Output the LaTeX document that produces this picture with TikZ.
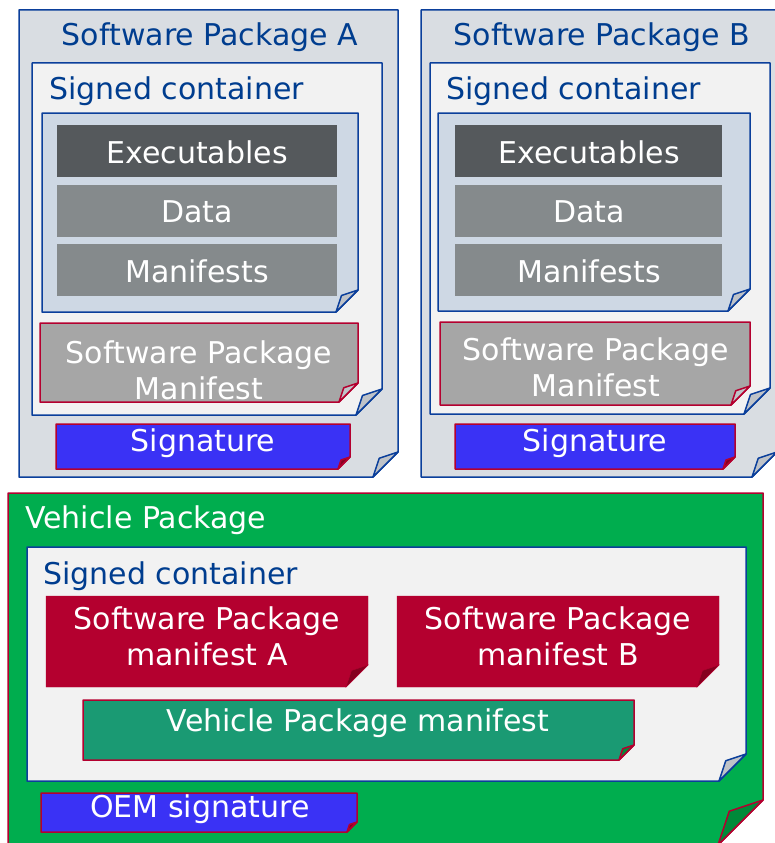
\documentclass[tikz,border=0pt]{standalone}
\usepackage{fontspec}
\setmainfont{DejaVu Sans}

\definecolor{pblue}{HTML}{0B3F9B}
\definecolor{tblue}{HTML}{003D8F}
\definecolor{pkggray}{HTML}{D9DDE2}
\definecolor{boxgray}{HTML}{F2F2F2}
\definecolor{filegray}{HTML}{CED8E4}
\definecolor{execgray}{HTML}{55595C}
\definecolor{datagray}{HTML}{858A8C}
\definecolor{mangray}{HTML}{A6A6A6}
\definecolor{flapgray}{HTML}{BFC3C8}
\definecolor{crimson}{HTML}{B4002F}
\definecolor{darkcrimson}{HTML}{85001F}
\definecolor{sigblue}{HTML}{3A32F5}
\definecolor{vgreen}{HTML}{00AD4E}
\definecolor{darkvgreen}{HTML}{008A3A}
\definecolor{vteal}{HTML}{1A9A73}

% box with folded bottom right corner: style, flap colour, x1, y1, x2, y2, fold
\newcommand{\foldbox}[7]{
  \filldraw[#1] (#3,#4) -- (#5,#4) -- (#5,{#6-#7}) -- ({#5-#7},#6) -- (#3,#6) -- cycle;
  \filldraw[#1, fill=#2] (#5,{#6-#7}) -- ({#5-0.75*#7},{#6-0.75*#7}) -- ({#5-#7},#6) -- cycle;
}

\tikzset{
  bluebox/.style={draw=pblue, line width=1.5pt, line join=round},
  redbox/.style={draw=crimson, line width=1.5pt, line join=round},
  label/.style={font=\fontsize{30}{36}\selectfont, inner sep=0pt},
  title/.style={label, text=tblue},
  wlabel/.style={label, text=white, align=center}
}

\begin{document}
\begin{tikzpicture}[x=1pt, y=-1pt]
  \useasboundingbox (0,0) rectangle (775,843);
  \clip (0,0) rectangle (775,843);

  % software package A
  \foldbox{bluebox, fill=pkggray}{flapgray}{19}{10}{398}{477}{25}
  \node[title] (titleA) at (210,37) {Software Package A};
  \foldbox{bluebox, fill=boxgray}{flapgray}{32}{63}{382}{415}{26}
  \node[title, anchor=west] (contA) at (49,91) {Signed container};
  \foldbox{bluebox, fill=filegray}{flapgray}{42}{113}{358}{312}{22}
  \fill[execgray] (57,125) rectangle (337,177);
  \fill[datagray] (57,185) rectangle (337,237);
  \fill[datagray] (57,244) rectangle (337,296);
  \node[wlabel] (execA) at (197,152) {Executables};
  \node[wlabel] (dataA) at (197,212) {Data};
  \node[wlabel] (manA) at (197,271) {Manifests};
  \foldbox{redbox, fill=mangray}{flapgray}{40}{323}{358}{402}{19}
  \node[wlabel] (spmA) at (199,370) {Software Package\\Manifest};
  \foldbox{redbox, fill=sigblue}{darkcrimson}{56}{424}{350}{469}{12}
  \node[wlabel] (sigA) at (203,443) {Signature};

  % software package B
  \foldbox{bluebox, fill=pkggray}{flapgray}{421}{10}{777}{477}{25}
  \node[title] (titleB) at (602,37) {Software Package B};
  \foldbox{bluebox, fill=boxgray}{flapgray}{430}{63}{770}{414}{26}
  \node[title, anchor=west] (contB) at (446,91) {Signed container};
  \foldbox{bluebox, fill=filegray}{flapgray}{438}{113}{750}{311}{22}
  \fill[execgray] (455,125) rectangle (722,177);
  \fill[datagray] (455,185) rectangle (722,237);
  \fill[datagray] (455,244) rectangle (722,296);
  \node[wlabel] (execB) at (589,152) {Executables};
  \node[wlabel] (dataB) at (589,212) {Data};
  \node[wlabel] (manB) at (589,271) {Manifests};
  \foldbox{redbox, fill=mangray}{flapgray}{440}{322}{750}{405}{19}
  \node[wlabel] (spmB) at (596,367) {Software Package\\Manifest};
  \foldbox{redbox, fill=sigblue}{darkcrimson}{455}{424}{735}{469}{12}
  \node[wlabel] (sigB) at (595,443) {Signature};

  % vehicle package
  \foldbox{redbox, fill=vgreen}{darkvgreen}{8}{493}{763}{845}{45}
  \node[wlabel, anchor=west] (vehicle) at (25,520) {Vehicle Package};
  \foldbox{bluebox, fill=boxgray}{flapgray}{27}{547}{746}{781}{27}
  \node[title, anchor=west] (contV) at (43,576) {Signed container};
  \foldbox{draw=crimson, fill=crimson}{darkcrimson}{46}{596}{368}{687}{22}
  \node[wlabel] (spmVA) at (207,636) {Software Package\\manifest A};
  \foldbox{draw=crimson, fill=crimson}{darkcrimson}{397}{596}{719}{687}{22}
  \node[wlabel] (spmVB) at (558,636) {Software Package\\manifest B};
  \foldbox{redbox, fill=vteal}{darkvgreen}{83}{700}{634}{760}{15}
  \node[wlabel] (vpm) at (358,723) {Vehicle Package manifest};
  \foldbox{redbox, fill=sigblue}{darkcrimson}{41}{793}{357}{832}{10}
  \node[wlabel] (oem) at (200,809) {OEM signature};
\end{tikzpicture}
\end{document}
